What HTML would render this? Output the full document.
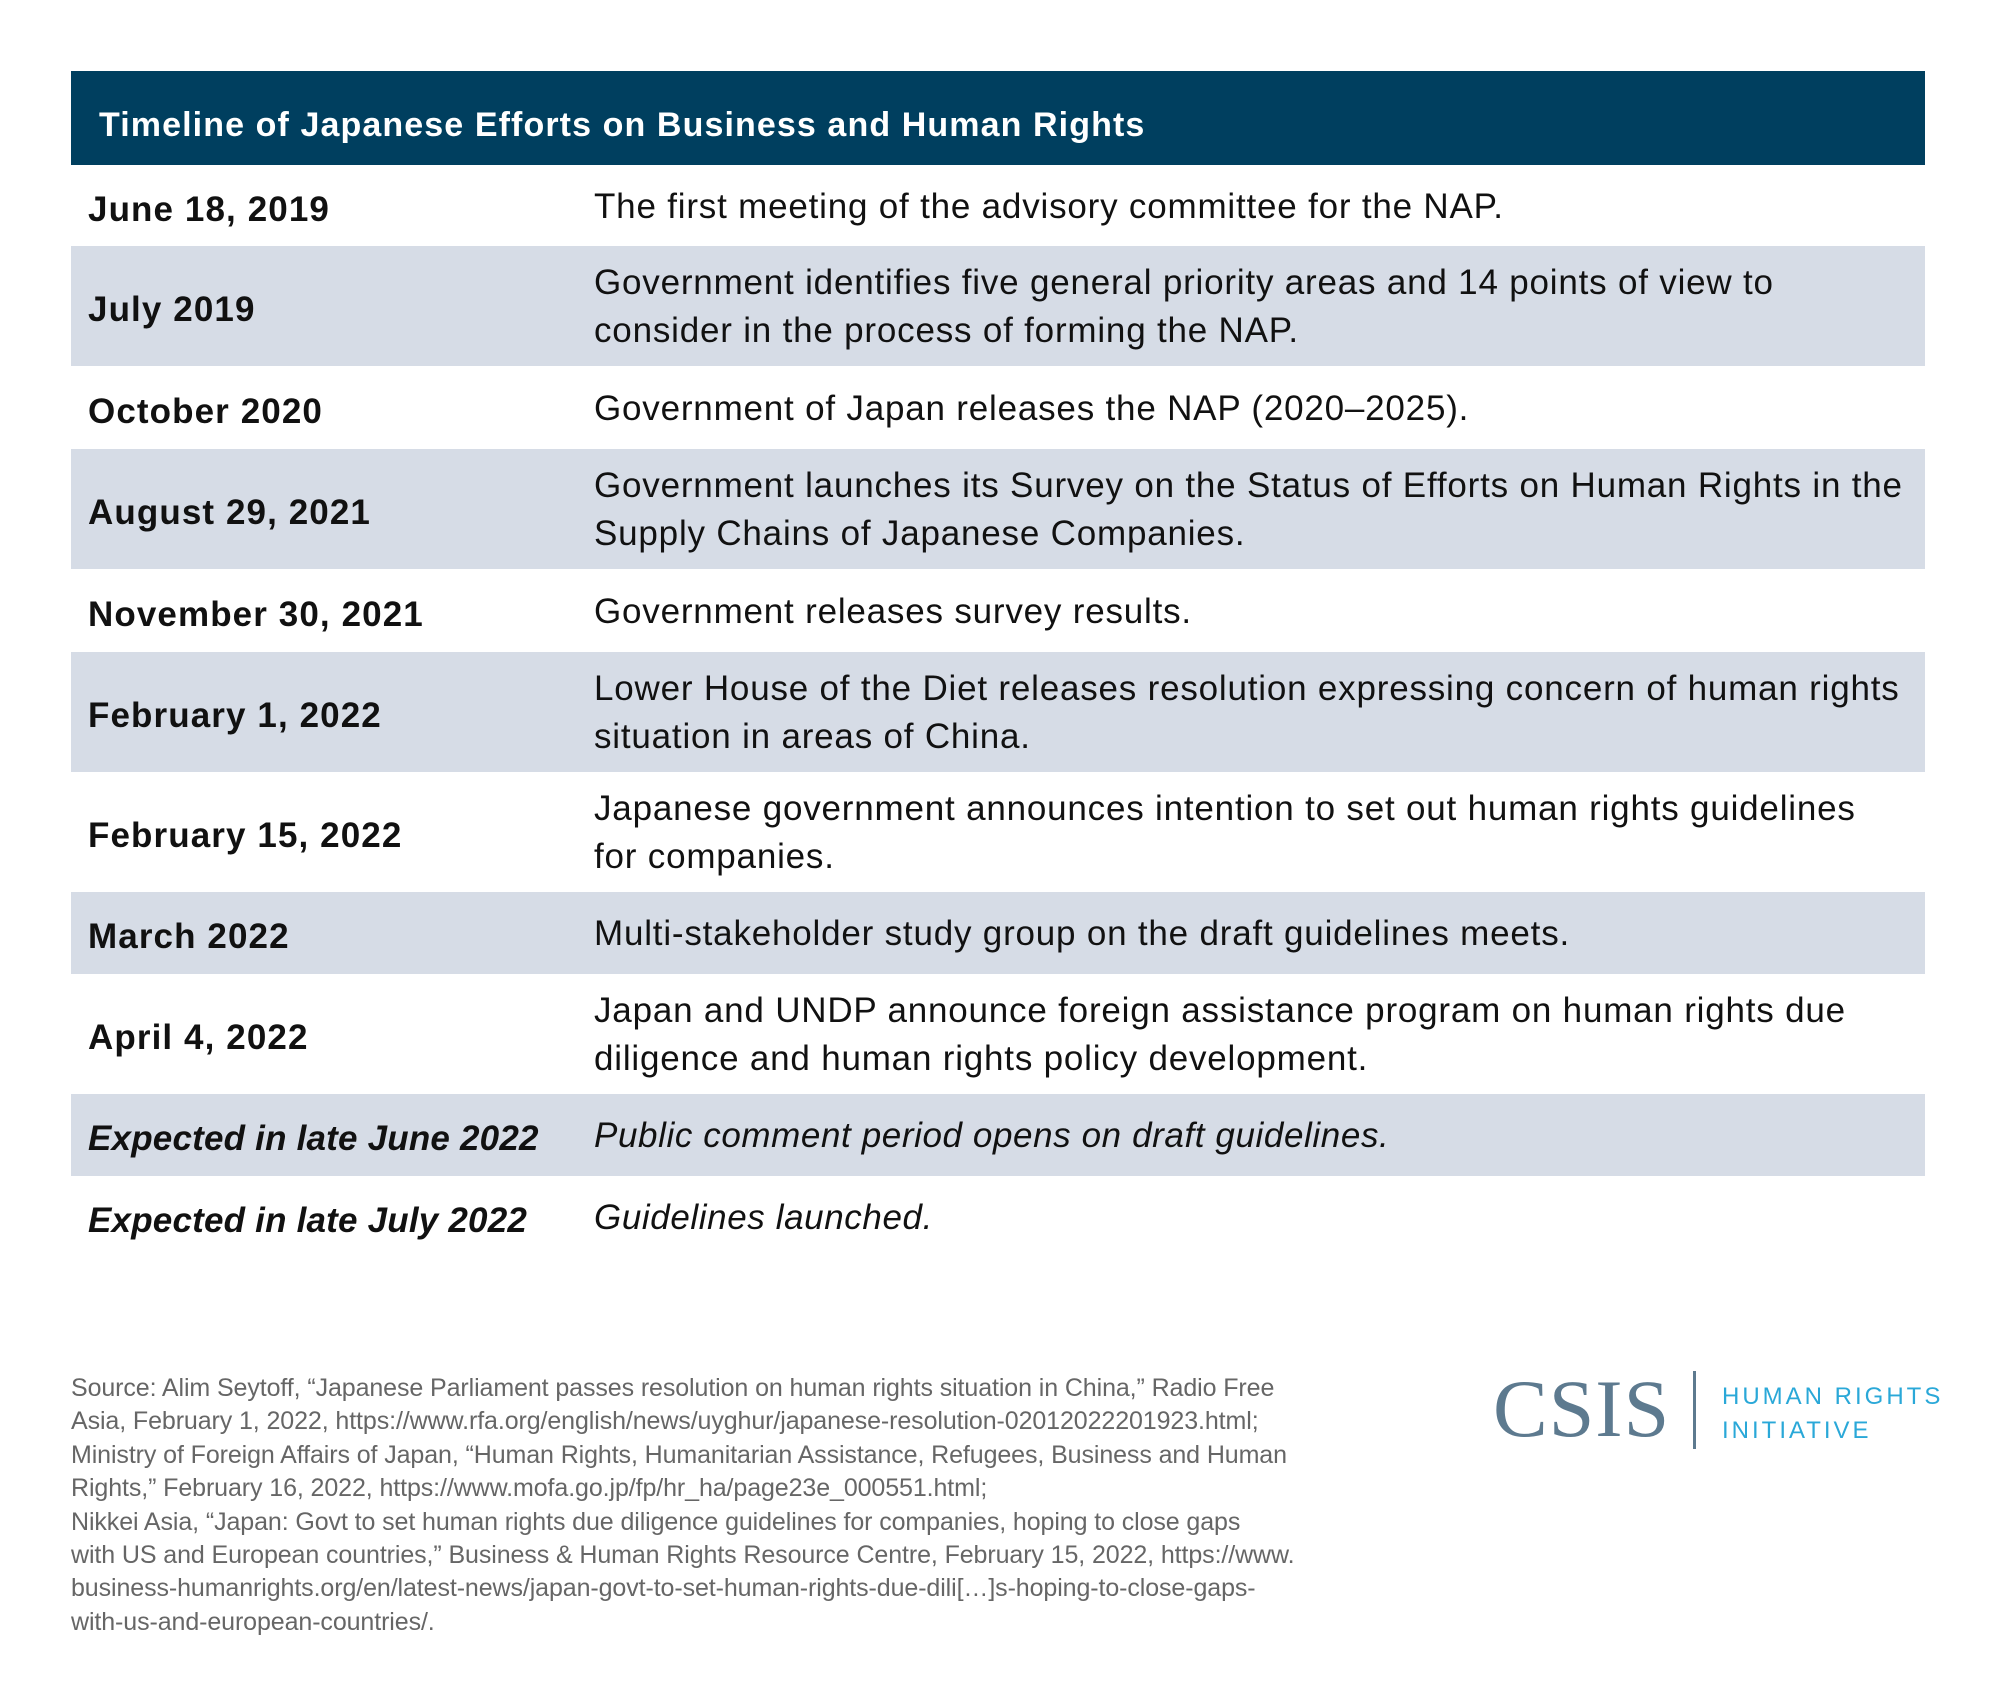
<!DOCTYPE html>
<html><head><meta charset="utf-8"><style>
*{margin:0;padding:0;box-sizing:border-box}
body{width:2000px;height:1705px;background:#fff;font-family:"Liberation Sans",sans-serif;position:relative;overflow:hidden}
.hdr{position:absolute;left:71px;top:71px;width:1854px;height:94px;background:#003f5f;color:#fff;font-weight:bold;font-size:34px;padding-left:28px;line-height:108px;letter-spacing:1.1px}
.row{position:absolute;left:71px;width:1854px;display:flex;align-items:center}
.g{background:#d6dce6}
.d{width:523px;padding-left:17px;font-weight:bold;font-size:35px;color:#111;letter-spacing:1.1px;white-space:nowrap;padding-top:8px}
.t{font-size:35px;color:#111;line-height:48px;white-space:nowrap;letter-spacing:0.8px;padding-top:2px}
.d.i{letter-spacing:0.2px}
.t.i{letter-spacing:0.6px}
.i{font-style:italic}
.src{position:absolute;left:71px;top:1372px;font-size:25px;line-height:33.4px;color:#666;white-space:nowrap;letter-spacing:-0.1px}
.csis{position:absolute;left:1493px;top:1362px;font-family:"Liberation Serif",serif;font-size:82px;color:#5d7a8f;letter-spacing:1px}
.div{position:absolute;left:1693px;top:1371px;width:3px;height:78px;background:#5d7a8f}
.hr{position:absolute;left:1722px;top:1380px;font-size:24px;line-height:34px;color:#2aa8d8;letter-spacing:3px}
</style></head><body>
<div class="hdr">Timeline of Japanese Efforts on Business and Human Rights</div>
<div class="row" style="top:165px;height:81px"><div class="d">June 18, 2019</div><div class="t">The first meeting of the advisory committee for the NAP.</div></div>
<div class="row g" style="top:246px;height:120px"><div class="d">July 2019</div><div class="t">Government identifies five general priority areas and 14 points of view to<br>consider in the process of forming the NAP.</div></div>
<div class="row" style="top:366px;height:83px"><div class="d">October 2020</div><div class="t">Government of Japan releases the NAP (2020–2025).</div></div>
<div class="row g" style="top:449px;height:120px"><div class="d">August 29, 2021</div><div class="t">Government launches its Survey on the Status of Efforts on Human Rights in the<br>Supply Chains of Japanese Companies.</div></div>
<div class="row" style="top:569px;height:83px"><div class="d">November 30, 2021</div><div class="t">Government releases survey results.</div></div>
<div class="row g" style="top:652px;height:120px"><div class="d">February 1, 2022</div><div class="t">Lower House of the Diet releases resolution expressing concern of human rights<br>situation in areas of China.</div></div>
<div class="row" style="top:772px;height:120px"><div class="d">February 15, 2022</div><div class="t">Japanese government announces intention to set out human rights guidelines<br>for companies.</div></div>
<div class="row g" style="top:892px;height:82px"><div class="d">March 2022</div><div class="t">Multi-stakeholder study group on the draft guidelines meets.</div></div>
<div class="row" style="top:974px;height:120px"><div class="d">April 4, 2022</div><div class="t">Japan and UNDP announce foreign assistance program on human rights due<br>diligence and human rights policy development.</div></div>
<div class="row g" style="top:1094px;height:82px"><div class="d i">Expected in late June 2022</div><div class="t i">Public comment period opens on draft guidelines.</div></div>
<div class="row" style="top:1176px;height:82px"><div class="d i">Expected in late July 2022</div><div class="t i">Guidelines launched.</div></div>
<div class="src">Source: Alim Seytoff, “Japanese Parliament passes resolution on human rights situation in China,” Radio Free<br>Asia, February 1, 2022, https://www.rfa.org/english/news/uyghur/japanese-resolution-02012022201923.html;<br>Ministry of Foreign Affairs of Japan, “Human Rights, Humanitarian Assistance, Refugees, Business and Human<br>Rights,” February 16, 2022, https://www.mofa.go.jp/fp/hr_ha/page23e_000551.html;<br>Nikkei Asia, “Japan: Govt to set human rights due diligence guidelines for companies, hoping to close gaps<br>with US and European countries,” Business &amp; Human Rights Resource Centre, February 15, 2022, https://www.<br>business-humanrights.org/en/latest-news/japan-govt-to-set-human-rights-due-dili[…]s-hoping-to-close-gaps-<br>with-us-and-european-countries/.</div>
<div class="csis">CSIS</div>
<div class="div"></div>
<div class="hr">HUMAN RIGHTS<br>INITIATIVE</div>
</body></html>
